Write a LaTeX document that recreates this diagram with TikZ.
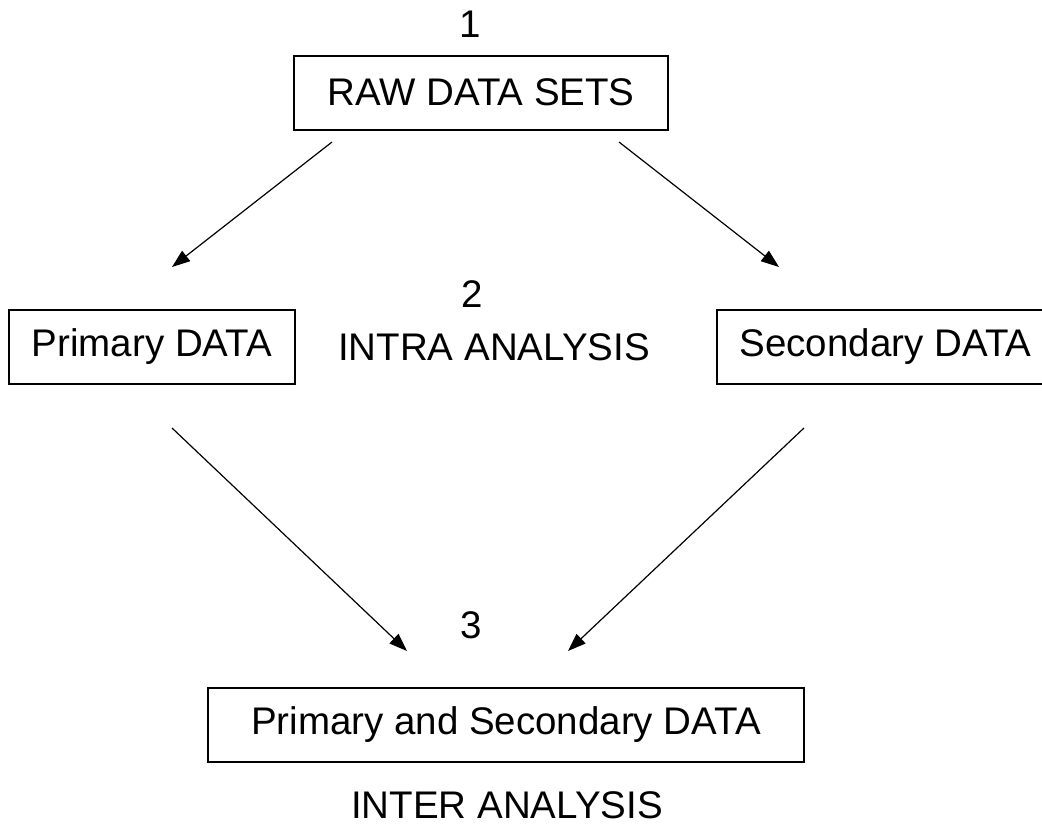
\documentclass[tikz,border=0pt]{standalone}
\usepackage{fontspec}
\setmainfont{Liberation Sans}
\usetikzlibrary{arrows.meta}
\begin{document}
\begin{tikzpicture}[x=1pt,y=-1pt,
  every node/.style={font=\fontsize{38.5}{46}\selectfont, inner sep=0pt},
  box/.style={draw, line width=1.5pt, text height=27.6pt},
  lbl/.style={anchor=base},
  conn/.style={line width=1.2pt, -{Triangle[length=18pt,width=13pt]}}]
\useasboundingbox (0,0) rectangle (1042,825);
\clip (0,0) rectangle (1042,825);
\fill[white] (0,0) rectangle (1042,825);

% boxes
\node[box, text depth=2pt, minimum width=374pt, minimum height=74pt] (raw) at (481,93) {RAW DATA SETS};
\node[box, text depth=9pt, minimum width=286pt, minimum height=74pt] (prim) at (152,347) {Primary DATA};
\node[box, text depth=9pt, minimum width=337pt, minimum height=74pt] (sec) at (885.5,347) {Secondary DATA};
\node[box, text depth=9pt, minimum width=596pt, minimum height=74pt] (both) at (506,725) {Primary and Secondary DATA};

% labels
\node[lbl] (n1) at (470,37) {1};
\node[lbl] (n2) at (472,307) {2};
\node[lbl] (intra) at (494,360) {INTRA ANALYSIS};
\node[lbl] (n3) at (471,638) {3};
\node[lbl] (inter) at (507,818) {INTER ANALYSIS};

% connector end points
\coordinate (a1s) at (332,142);
\coordinate (a1e) at (172,267);
\coordinate (a2s) at (619,142);
\coordinate (a2e) at (779,267);
\coordinate (a3s) at (172,428);
\coordinate (a3e) at (407,651);
\coordinate (a4s) at (804,428);
\coordinate (a4e) at (568,651);

\draw[conn] (a1s) -- (a1e);
\draw[conn] (a2s) -- (a2e);
\draw[conn] (a3s) -- (a3e);
\draw[conn] (a4s) -- (a4e);
\end{tikzpicture}
\end{document}
